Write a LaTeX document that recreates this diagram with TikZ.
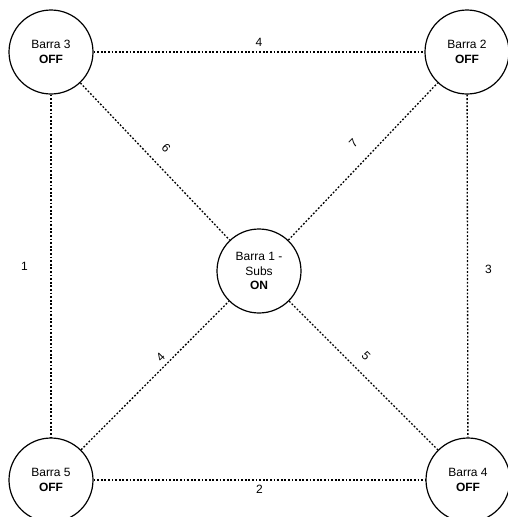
\documentclass[tikz,border=0pt]{standalone}
\usepackage{fontspec}
\setmainfont{Liberation Sans}
\begin{document}
\begin{tikzpicture}[x=1pt,y=-1pt,
  bus/.style={circle,draw,line width=1.2pt,minimum size=84pt,inner sep=0pt,align=center,
    font=\fontsize{12}{14.5}\selectfont,fill=white},
  link/.style={line width=1.3pt,dash pattern=on 1.8pt off 1.8pt},
  lbl/.style={font=\fontsize{12}{14}\selectfont,inner sep=0pt}]
\useasboundingbox (0,0) rectangle (508,517);
\node[bus] (b3) at (51,52) {Barra 3\\\textbf{OFF}};
\node[bus] (b2) at (467,52) {Barra 2\\\textbf{OFF}};
\node[bus] (b1) at (259,271) {Barra 1 -\\Subs\\\textbf{ON}};
\node[bus] (b5) at (51,480) {Barra 5\\\textbf{OFF}};
\node[bus] (b4) at (468,480) {Barra 4\\\textbf{OFF}};
\draw[link] (b3) -- (b2) node[lbl,midway,anchor=south,inner ysep=4.7pt]{4};
\draw[link] (b5) -- (b4) node[lbl,midway,anchor=north,inner ysep=4.7pt]{2};
\draw[link] (b3) -- (b5) node[lbl,midway,anchor=east,inner xsep=22.5pt]{1};
\draw[link] (b2) -- (b4) node[lbl,pos=0.51,anchor=west,inner xsep=17pt]{3};
\draw[link] (b3) -- (b1) node[lbl,pos=0.49,sloped,anchor=south,inner ysep=12.5pt]{6};
\draw[link] (b1) -- (b2) node[lbl,pos=0.53,sloped,anchor=south,inner ysep=14.5pt]{7};
\draw[link] (b5) -- (b1) node[lbl,pos=0.58,sloped,anchor=south,inner ysep=4pt]{4};
\draw[link] (b1) -- (b4) node[lbl,pos=0.445,sloped,anchor=south,inner ysep=10.5pt]{5};
\end{tikzpicture}
\end{document}
